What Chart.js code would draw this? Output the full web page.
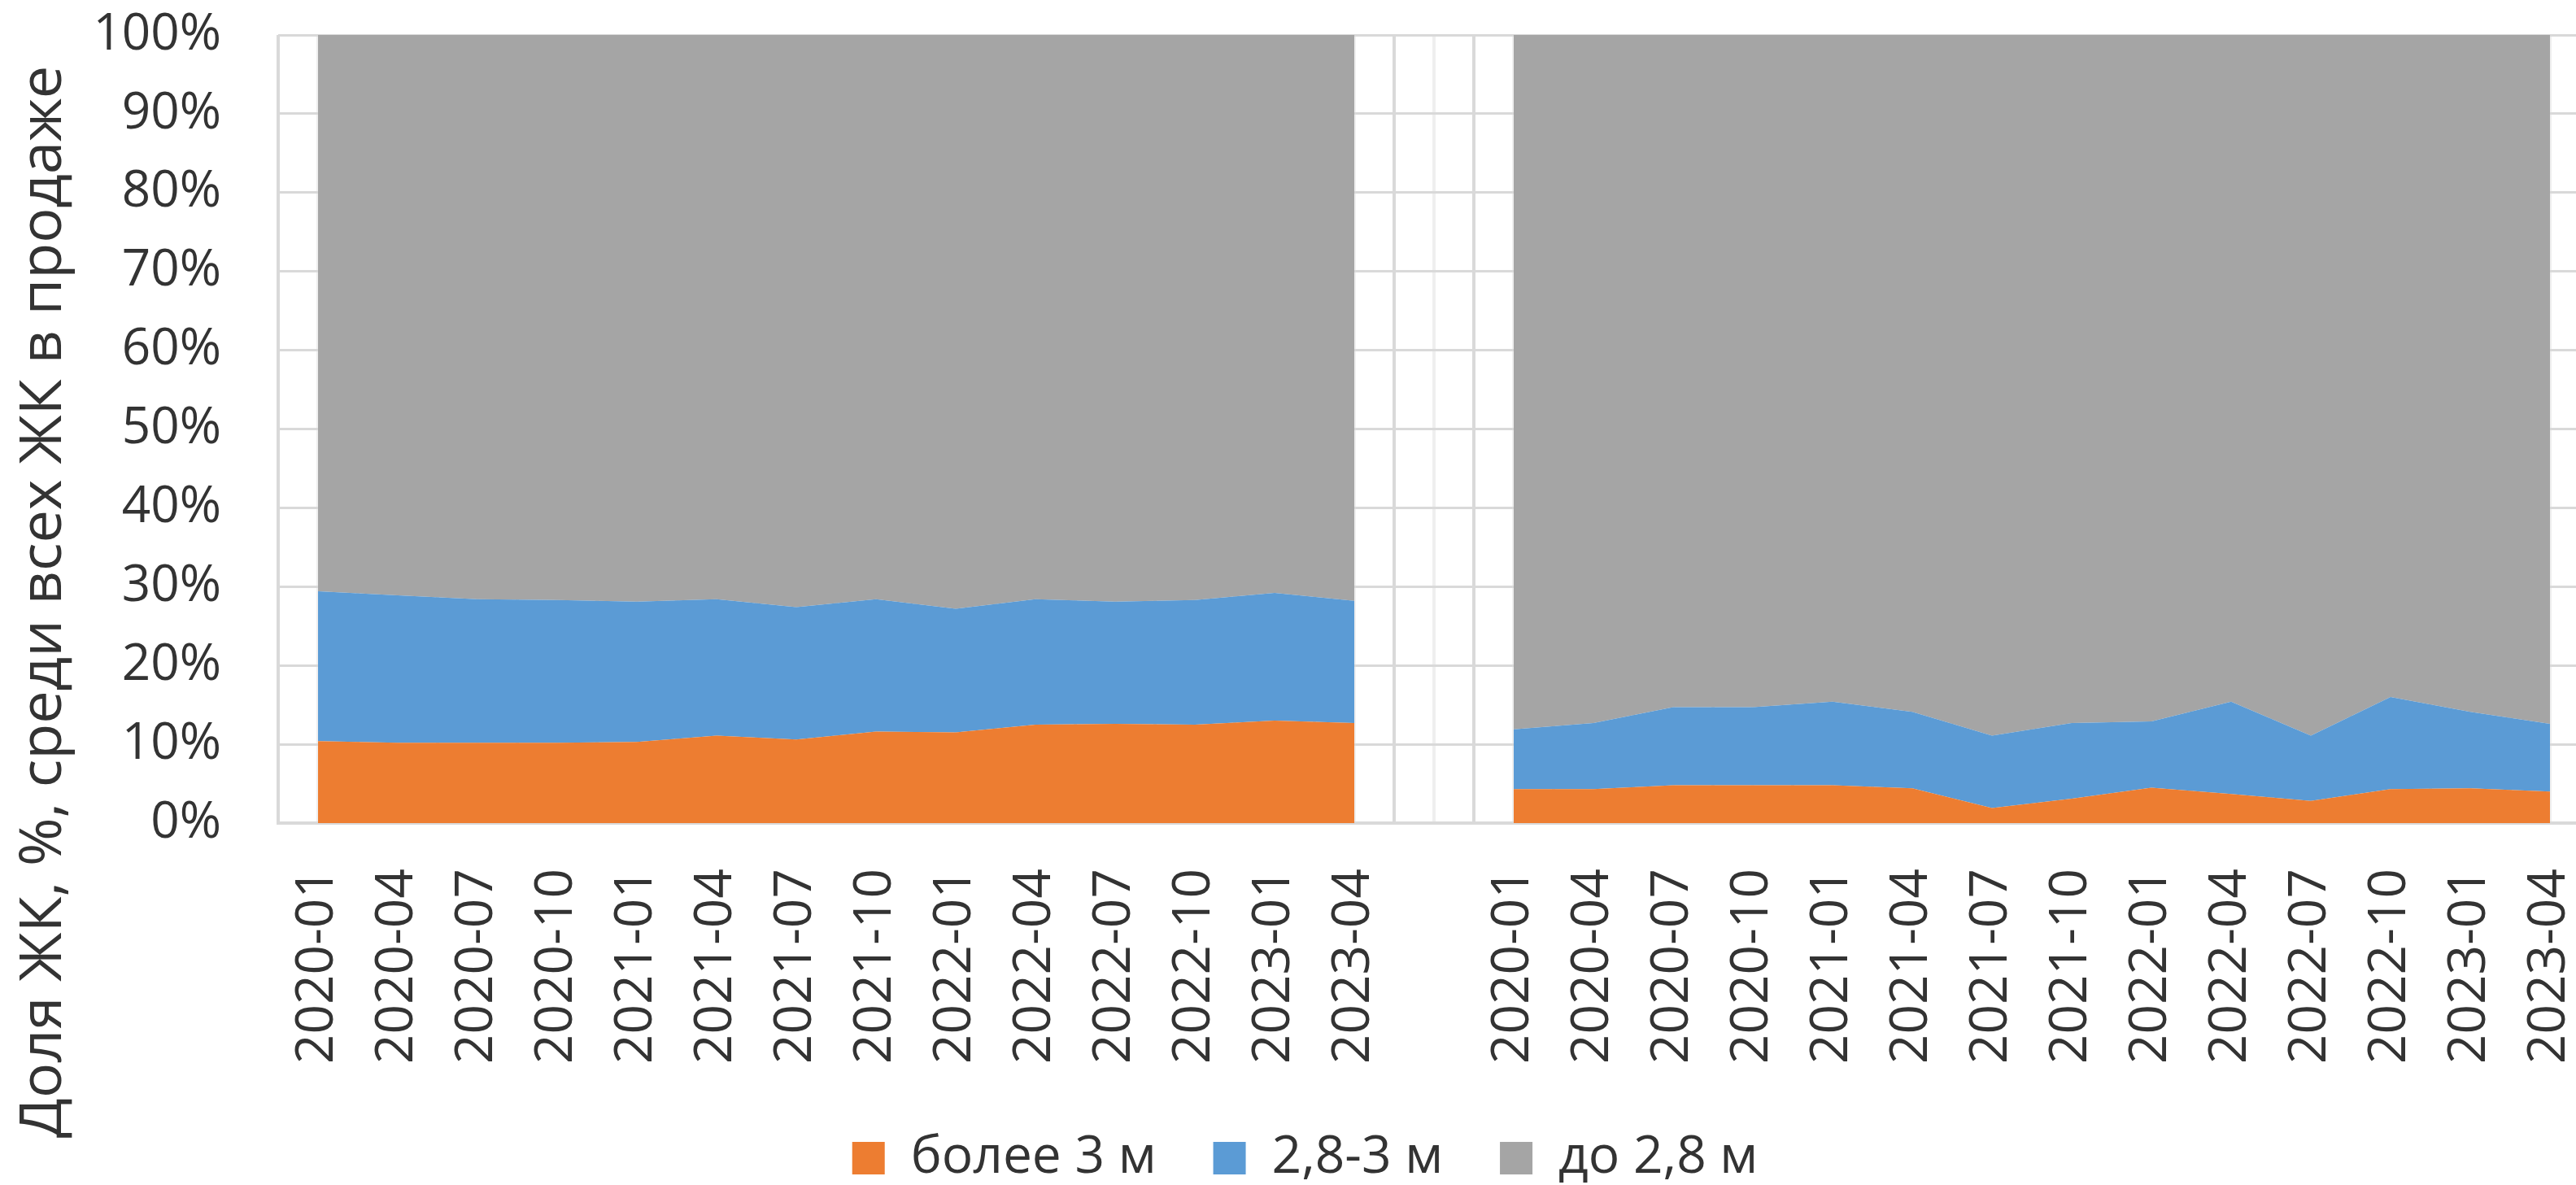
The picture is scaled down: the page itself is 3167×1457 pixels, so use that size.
<!DOCTYPE html>
<html>
<head>
<meta charset="utf-8">
<script src="https://cdn.jsdelivr.net/npm/chart.js@4/dist/chart.umd.min.js"></script>
<style>
  body { margin: 0; overflow: hidden; background: #fff; }
  canvas { display: block; }
</style>
</head>
<body>
<canvas id="areaChart" width="3230" height="1466"></canvas>
<script>
// quarters, same for both panels
const quarters = ['2020-01', '2020-04', '2020-07', '2020-10', '2021-01', '2021-04', '2021-07',
    '2021-10', '2022-01', '2022-04', '2022-07', '2022-10', '2023-01', '2023-04'];

// left panel, % of complexes
const over3Left = [10.4, 10.2, 10.2, 10.2, 10.3, 11.1, 10.6, 11.6, 11.5, 12.5, 12.6, 12.5, 13.0, 12.7];
const mid28Left = [19.0, 18.7, 18.2, 18.1, 17.8, 17.3, 16.8, 16.8, 15.7, 15.9, 15.5, 15.8, 16.2, 15.5];
const under28Left = [70.6, 71.1, 71.6, 71.7, 71.9, 71.6, 72.6, 71.6, 72.8, 71.6, 71.9, 71.7, 70.8, 71.8];

// right panel
const over3Right = [4.3, 4.3, 4.8, 4.8, 4.8, 4.4, 1.9, 3.1, 4.5, 3.7, 2.8, 4.3, 4.4, 4.0];
const mid28Right = [7.6, 8.4, 9.9, 9.9, 10.6, 9.7, 9.2, 9.6, 8.4, 11.7, 8.3, 11.7, 9.7, 8.6];
const under28Right = [88.1, 87.3, 85.3, 85.3, 84.6, 85.9, 88.9, 87.3, 87.1, 84.6, 88.9, 84.0, 85.9, 87.4];

const seriesNames = ['более 3 м', '2,8-3 м', 'до 2,8 м'];
const seriesColors = ['#ED7D31', '#5B9BD5', '#A5A5A5'];
const yTicks = [0, 10, 20, 30, 40, 50, 60, 70, 80, 90, 100];
const yTitle = 'Доля ЖК, %, среди всех ЖК в продаже';

// one empty category between the panels
const labels = quarters.concat([''], quarters);
const join = (a, b) => a.concat([null], b);

const textColor = '#333333';
const fontFamily = '"Open Sans", "Noto Sans", sans-serif';

// y title is centred on the whole picture, not on the axis
const yTitlePlugin = {
    id: 'yTitle',
    afterDraw(chart) {
        const ctx = chart.ctx;
        ctx.save();
        ctx.translate(54, 740);
        ctx.rotate(-Math.PI / 2);
        ctx.font = '72px ' + fontFamily;
        ctx.fillStyle = textColor;
        ctx.textAlign = 'center';
        ctx.textBaseline = 'middle';
        ctx.fillText(yTitle, 0, 0);
        ctx.restore();
    }
};

const datasets = [
    join(over3Left, over3Right),
    join(mid28Left, mid28Right),
    join(under28Left, under28Right)
].map((vals, i) => ({
    label: seriesNames[i],
    data: vals,
    backgroundColor: seriesColors[i],
    borderColor: seriesColors[i],
    borderWidth: 0,
    pointRadius: 0,
    fill: i === 0 ? 'origin' : '-1',
    tension: 0,
    spanGaps: false
}));

new Chart(document.getElementById('areaChart'), {
    type: 'line',
    data: { labels: labels, datasets: datasets },
    options: {
        responsive: false,
        animation: false,
        layout: { padding: { left: 25, right: 46, top: 43, bottom: 0 } },
        plugins: {
            tooltip: { enabled: false },
            legend: {
                position: 'bottom',
                labels: {
                    boxWidth: 40,
                    boxHeight: 40,
                    padding: 70,
                    color: textColor,
                    font: { family: fontFamily, size: 64 }
                }
            }
        },
        scales: {
            x: {
                type: 'category',
                offset: true,
                grid: { offset: true, color: '#d9d9d9', lineWidth: 4, drawTicks: false },
                border: { display: true, color: '#d9d9d9', width: 4 },
                ticks: {
                    autoSkip: false,
                    minRotation: 90,
                    maxRotation: 90,
                    padding: 56,
                    color: textColor,
                    font: { family: fontFamily, size: 64 }
                },
                afterFit: (scale) => {
                    scale.height = 310;
                    scale.paddingLeft = 0;
                    scale.paddingRight = 0;
                }
            },
            xc: {
                type: 'category',
                position: 'bottom',
                offset: true,
                grid: { offset: false, color: '#efefef', lineWidth: 4, drawTicks: false },
                border: { display: false },
                ticks: { display: false }
            },
            y: {
                stacked: true,
                min: 0,
                max: 100,
                afterBuildTicks: (scale) => { scale.ticks = yTicks.map(v => ({ value: v })); },
                grid: { color: '#d9d9d9', lineWidth: 3, drawTicks: false },
                border: { display: false },
                ticks: {
                    padding: 70,
                    color: textColor,
                    font: { family: fontFamily, size: 62 },
                    callback: (v) => v + '%'
                },
                afterFit: (scale) => {
                    scale.width = 317;
                    scale.paddingTop = 0;
                    scale.paddingBottom = 0;
                }
            }
        }
    },
    plugins: [yTitlePlugin]
});
</script>
</body>
</html>
